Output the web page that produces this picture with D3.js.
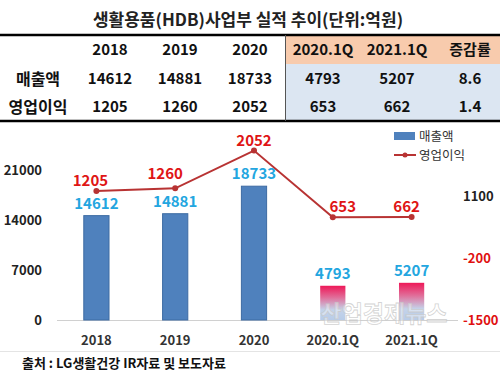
<!DOCTYPE html>
<html>
<head>
<meta charset="utf-8">
<script src="https://cdn.jsdelivr.net/npm/d3@7"></script>
<style>
  body { margin: 0; background: #fff; }
  svg { display: block; font-family: "Noto Sans CJK KR", "Noto Sans", sans-serif; }
</style>
</head>
<body>
<svg></svg>
<script>
const categories = ["2018", "2019", "2020", "2020.1Q", "2021.1Q"];
const sales = [14612, 14881, 18733, 4793, 5207];
const profit = [1205, 1260, 2052, 653, 662];
const changeRate = ["8.6", "1.4"];
const rowNames = ["매출액", "영업이익"];
const leftTicks = [0, 7000, 14000, 21000];
const rightTicks = [1100, -200, -1500];

const size = { w: 500, h: 388 };
const svg = d3.select("svg").attr("width", size.w).attr("height", size.h);

// title
svg.append("text")
	.attr("x", 248).attr("y", 26)
	.attr("text-anchor", "middle")
	.attr("font-size", 17).attr("font-weight", "bold").attr("fill", "#222")
	.text("생활용품(HDB)사업부 실적 추이(단위:억원)");

// table
const colX = [38, 110, 180, 250, 323, 397, 470];
const rowY = [50, 79, 107];
svg.append("rect").attr("x", 285).attr("y", 35).attr("width", 215).attr("height", 29).attr("fill", "#f8cbad");
svg.append("rect").attr("x", 285).attr("y", 64).attr("width", 215).attr("height", 57).attr("fill", "#dce6f2");
svg.append("line").attr("x1", 0).attr("x2", 500).attr("y1", 35).attr("y2", 35).attr("stroke", "#000").attr("stroke-width", 2.5);
svg.append("line").attr("x1", 0).attr("x2", 500).attr("y1", 121).attr("y2", 121).attr("stroke", "#000").attr("stroke-width", 2.5);
svg.append("line").attr("x1", 285.5).attr("x2", 285.5).attr("y1", 35).attr("y2", 121).attr("stroke", "#555").attr("stroke-width", 1);

const tableRows = [
	[""].concat(categories, ["증감률"]),
	[rowNames[0]].concat(sales, [changeRate[0]]),
	[rowNames[1]].concat(profit, [changeRate[1]])
];
const tableG = svg.append("g").attr("font-weight", "bold").attr("fill", "#111");
tableRows.forEach((row, ri) => {
	tableG.selectAll(null)
		.data(row)
		.join("text")
		.attr("x", (d, i) => colX[i])
		.attr("y", rowY[ri])
		.attr("dy", "0.36em")
		.attr("text-anchor", "middle")
		.attr("font-size", (d, i) => (i === 0 ? 16 : 15))
		.text((d) => d);
});

// chart scales
const x = d3.scaleBand().domain(categories).range([57, 451]).paddingInner(0.68).paddingOuter(0.34);
const yL = d3.scaleLinear().domain([0, 7000]).range([320, 270]);
const yR = d3.scaleLinear().domain([-1500, 1100]).range([320, 196]);

const defs = svg.append("defs");
const grad = defs.append("linearGradient").attr("id", "qGrad").attr("x1", 0).attr("x2", 0).attr("y1", 0).attr("y2", 1);
grad.append("stop").attr("offset", "0%").attr("stop-color", "#ee1858");
grad.append("stop").attr("offset", "35%").attr("stop-color", "#e0709b");
grad.append("stop").attr("offset", "70%").attr("stop-color", "#c4d3ea");
grad.append("stop").attr("offset", "100%").attr("stop-color", "#b8cce8");

// faint cell line under chart
svg.append("line").attr("x1", 0).attr("x2", 500).attr("y1", 351.5).attr("y2", 351.5).attr("stroke", "#e4e4e4");

// baseline
svg.append("line").attr("x1", 57).attr("x2", 458).attr("y1", yL(0) + 0.5).attr("y2", yL(0) + 0.5).attr("stroke", "#d0d0d0");

// left axis labels
svg.append("g").selectAll("text")
	.data(leftTicks)
	.join("text")
	.attr("x", 42).attr("y", (d) => yL(d)).attr("dy", "0.36em")
	.attr("text-anchor", "end").attr("font-size", 13).attr("font-weight", 600).attr("fill", "#222")
	.text((d) => d);

// right axis labels
svg.append("g").selectAll("text")
	.data(rightTicks)
	.join("text")
	.attr("x", 463).attr("y", (d) => yR(d)).attr("dy", "0.36em")
	.attr("font-size", 13).attr("font-weight", 600)
	.attr("fill", (d) => (d < 0 ? "#e01010" : "#222"))
	.text((d) => d);

// x labels
svg.append("g").selectAll("text")
	.data(categories)
	.join("text")
	.attr("x", (d) => x(d) + x.bandwidth() / 2).attr("y", 340).attr("dy", "0.36em")
	.attr("text-anchor", "middle").attr("font-size", 13).attr("font-weight", "bold").attr("fill", "#333")
	.text((d) => d);

// bars
svg.append("g").selectAll("rect")
	.data(sales)
	.join("rect")
	.attr("x", (d, i) => x(categories[i]))
	.attr("y", (d) => yL(d))
	.attr("width", x.bandwidth())
	.attr("height", (d) => yL(0) - yL(d))
	.attr("fill", (d, i) => (categories[i].includes("Q") ? "url(#qGrad)" : "#4f81bd"))
	.attr("stroke", (d, i) => (categories[i].includes("Q") ? "none" : "#3d6ba3"))
	.attr("stroke-width", 1);

// watermark, faint overlay on top of the bars
svg.append("text")
	.attr("x", 384).attr("y", 322)
	.attr("text-anchor", "middle").attr("font-size", 23).attr("font-weight", "bold")
	.attr("fill", "#fff").attr("fill-opacity", 0.35).attr("stroke", "#c8c8c8").attr("stroke-opacity", 0.8).attr("stroke-width", 0.8)
	.text("산업경제뉴스");

svg.append("g").selectAll("text")
	.data(sales)
	.join("text")
	.attr("x", (d, i) => x(categories[i]) + x.bandwidth() / 2)
	.attr("y", (d) => yL(d) - 7)
	.attr("text-anchor", "middle").attr("font-size", 15).attr("font-weight", "bold").attr("fill", "#23a6e0")
	.text((d) => d);

// profit line
const cx = (i) => x(categories[i]) + x.bandwidth() / 2;
const line = d3.line().x((d, i) => cx(i)).y((d) => yR(d));
svg.append("path").datum(profit).attr("d", line).attr("fill", "none").attr("stroke", "#b83333").attr("stroke-width", 2);
svg.append("g").selectAll("circle")
	.data(profit)
	.join("circle")
	.attr("cx", (d, i) => cx(i)).attr("cy", (d) => yR(d)).attr("r", 3)
	.attr("fill", "#b83333");
// hand-placed label nudges as in the original
const nudgeX = [-6, -10, 0, 10, -5];
const nudgeY = [0, -4, 0, 0, 0];
svg.append("g").selectAll("text")
	.data(profit)
	.join("text")
	.attr("x", (d, i) => cx(i) + nudgeX[i])
	.attr("y", (d, i) => yR(d) - 5 + nudgeY[i])
	.attr("text-anchor", "middle").attr("font-size", 15).attr("font-weight", "bold").attr("fill", "#e01515")
	.text((d) => d);

// legend
const lg = svg.append("g").attr("font-size", 12.5).attr("fill", "#333");
lg.append("rect").attr("x", 394).attr("y", 132).attr("width", 21).attr("height", 8).attr("fill", "#4f81bd");
lg.append("text").attr("x", 419).attr("y", 136).attr("dy", "0.36em").text("매출액");
lg.append("line").attr("x1", 394).attr("x2", 416).attr("y1", 155).attr("y2", 155).attr("stroke", "#b83333").attr("stroke-width", 2);
lg.append("circle").attr("cx", 405).attr("cy", 155).attr("r", 2.5).attr("fill", "#b83333");
lg.append("text").attr("x", 419).attr("y", 155).attr("dy", "0.36em").text("영업이익");

// source
svg.append("text")
	.attr("x", 22).attr("y", 363).attr("dy", "0.36em")
	.attr("font-size", 13).attr("font-weight", "bold").attr("fill", "#111")
	.text("출처 : LG생활건강 IR자료 및 보도자료");
</script>
</body>
</html>
